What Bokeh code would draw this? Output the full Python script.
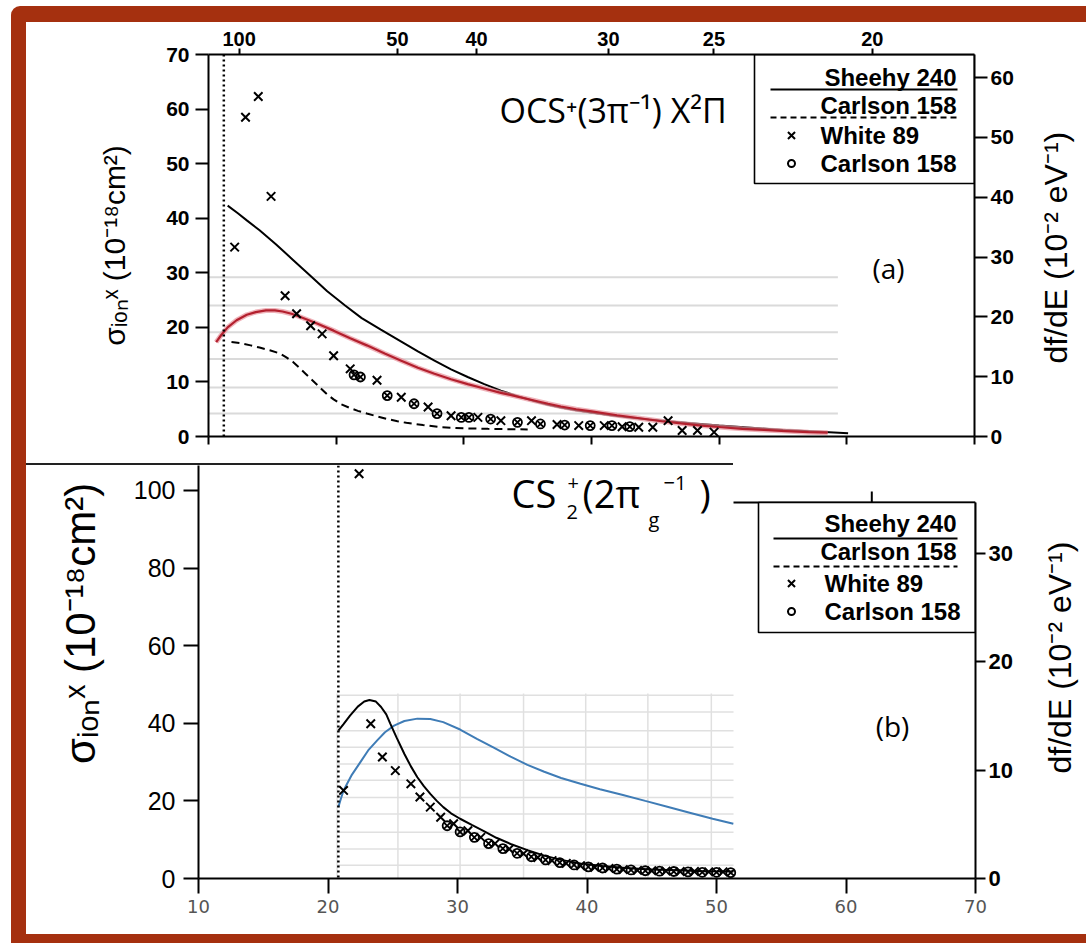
import math
from bokeh.plotting import figure
from bokeh.models import Range1d, LinearAxis, FixedTicker, Label, Span
from bokeh.layouts import column, row
from bokeh.embed import file_html
from bokeh.resources import INLINE

HC = 1239.84  # eV * nm, converts photon wavelength to photon energy

# ---------------- panel (a): OCS+ (3pi^-1) X2Pi ----------------
OCS_IP = 11.2
PHOTON_NM = [100, 50, 40, 30, 25, 20]

OCS_SHEEHY_E = [11.5, 12.3, 13.0, 14.0, 15.3, 16.6, 18.0, 19.3, 20.7, 22.0, 23.5, 25.1,
                26.4, 27.7, 29.0, 30.3, 31.6, 32.9, 34.2, 35.5, 36.6, 37.6, 38.8, 40.0,
                41.5, 43.0, 44.5, 46.0, 48.0, 50.0, 52.5, 55.0, 57.5, 60.1]
OCS_SHEEHY = [42.3, 40.9, 39.6, 37.8, 35.2, 32.4, 29.4, 26.6, 24.0, 21.7, 19.6, 17.4,
              15.6, 13.9, 12.3, 10.9, 9.6, 8.4, 7.4, 6.5, 5.8, 5.3, 4.8, 4.4,
              3.9, 3.5, 3.1, 2.8, 2.4, 2.0, 1.6, 1.2, 0.9, 0.6]

OCS_CALC_E = [10.6, 11.0, 11.5, 12.2, 13.0, 13.7, 14.5, 15.2, 15.8, 16.5, 17.2, 18.5,
              19.8, 21.1, 22.4, 23.8, 25.1, 26.4, 27.7, 29.0, 30.3, 31.6, 32.9, 34.2,
              35.5, 36.6, 37.6, 38.8, 40.0, 42.0, 43.9, 45.5, 47.0, 48.6, 50.2, 51.8,
              53.5, 55.2, 57.0, 58.5]
OCS_CALC = [17.3, 18.6, 20.0, 21.3, 22.3, 22.8, 23.1, 23.1, 22.9, 22.5, 21.9, 20.7,
            19.4, 18.0, 16.7, 15.2, 13.9, 12.6, 11.5, 10.5, 9.6, 8.8, 8.0, 7.3,
            6.6, 6.0, 5.5, 5.0, 4.6, 3.9, 3.3, 2.8, 2.4, 2.0, 1.7, 1.4,
            1.2, 1.0, 0.8, 0.7]

OCS_CARLSON_LINE_E = [11.8, 12.5, 13.3, 14.0, 14.8, 15.6, 16.1, 16.6, 17.2, 17.6, 18.0,
                      18.4, 18.8, 19.3, 19.8, 20.4, 21.0, 21.7, 22.4, 23.2, 24.0, 24.8,
                      25.5, 26.8, 28.2, 30.0, 31.9, 35.0]
OCS_CARLSON_LINE = [17.3, 17.1, 16.7, 16.3, 15.8, 15.2, 14.5, 13.7, 12.4, 11.5, 10.6,
                    9.7, 8.8, 7.7, 6.8, 5.9, 5.3, 4.7, 4.2, 3.7, 3.2, 2.8,
                    2.5, 2.1, 1.7, 1.5, 1.4, 1.3]

OCS_WHITE_E = [12.05, 12.9, 13.9, 14.9, 16.0, 16.9, 18.0, 18.9, 19.8, 21.1, 23.2, 25.1,
               27.2, 29.0, 31.1, 32.9, 35.3, 37.3, 39.0, 41.0, 42.4, 43.7, 44.8, 46.0,
               47.1, 48.3, 49.6]
OCS_WHITE = [34.7, 58.5, 62.3, 44.0, 25.8, 22.5, 20.3, 18.8, 14.8, 12.4, 10.3, 7.2,
             5.4, 3.8, 3.5, 2.9, 2.9, 2.2, 2.0, 2.0, 1.8, 1.7, 1.7, 2.9,
             1.1, 1.1, 0.8]

OCS_CARLSON_E = [21.4, 21.9, 24.0, 26.1, 27.9, 29.8, 30.4, 32.1, 34.2, 36.0, 37.9, 39.9,
                 41.6, 43.0]
OCS_CARLSON = [11.3, 10.9, 7.5, 6.0, 4.2, 3.5, 3.5, 3.2, 2.6, 2.3, 2.1, 2.0,
               2.0, 1.8]

OCS_RULED = [29.2, 24.0, 19.1, 14.2, 9.0, 4.2]

# ---------------- panel (b): CS2+ (2pi_g^-1) X ----------------
CS2_IP = 20.8

CS2_SHEEHY_E = [20.8, 21.2, 21.7, 22.3, 22.8, 23.2, 23.7, 24.1, 24.5, 24.8, 25.3, 25.9,
                26.4, 26.9, 27.4, 27.9, 28.4, 28.9, 29.5, 30.2, 31.1, 32.0, 33.0, 34.1,
                35.4, 36.7, 38.0, 39.5, 41.2, 43.0, 45.0, 47.0, 49.0, 51.3]
CS2_SHEEHY = [38.1, 39.8, 42.0, 44.3, 45.6, 46.0, 45.6, 44.2, 42.3, 40.0, 36.3, 32.1,
              28.9, 26.1, 23.8, 21.8, 20.0, 18.4, 16.8, 15.4, 13.8, 12.3, 10.5, 8.9,
              7.3, 5.9, 4.8, 3.9, 3.2, 2.7, 2.3, 2.1, 1.9, 1.8]

CS2_CALC_E = [20.8, 21.0, 21.2, 21.8, 22.5, 23.1, 23.8, 24.4, 25.1, 25.9, 26.9, 27.9,
              28.9, 30.2, 31.5, 32.8, 34.1, 35.4, 36.7, 38.0, 39.5, 41.0, 42.7, 44.5,
              46.2, 48.0, 49.7, 51.3]
CS2_CALC = [18.4, 20.6, 22.7, 26.5, 30.0, 33.0, 35.6, 37.7, 39.4, 40.6, 41.2, 41.1,
            40.3, 38.4, 36.0, 33.7, 31.4, 29.3, 27.5, 25.9, 24.4, 23.0, 21.6, 20.0,
            18.5, 16.9, 15.4, 14.1]

CS2_WHITE_E = [21.2, 22.4, 23.3, 24.2, 25.2, 26.4, 27.1, 27.9, 28.7, 29.7, 30.8, 31.8,
               32.9, 34.0, 35.1, 36.2, 37.3, 38.4, 39.5, 40.6, 41.7, 42.8, 43.9, 45.0,
               46.1, 47.2, 48.3, 49.4, 50.5]
CS2_WHITE = [22.7, 104.3, 39.9, 31.3, 27.8, 24.4, 21.0, 18.4, 15.8, 14.1, 12.3, 10.6,
             9.0, 7.6, 6.4, 5.4, 4.6, 3.9, 3.3, 2.9, 2.6, 2.3, 2.1, 2.0,
             1.9, 1.8, 1.8, 1.7, 1.7]

CS2_CARLSON_E = [29.2, 30.2, 31.3, 32.4, 33.5, 34.6, 35.7, 36.8, 37.9, 39.0, 40.1, 41.2,
                 42.3, 43.4, 44.5, 45.6, 46.7, 47.8, 48.9, 50.0, 51.1]
CS2_CARLSON = [13.6, 12.0, 10.6, 9.0, 7.7, 6.5, 5.6, 4.8, 4.1, 3.5, 3.0, 2.7,
               2.4, 2.2, 2.0, 1.9, 1.8, 1.7, 1.6, 1.6, 1.5]

CS2_GRID_E = [20.7, 25.4, 30.2, 35.1, 39.9, 44.7, 49.6]
CS2_GRID_S = [47.2, 42.9, 38.1, 33.8, 29.5, 25.3, 20.9, 16.6, 11.9, 7.6, 3.4]

ENERGY_TICKS = [10, 20, 30, 40, 50, 60, 70]

# ---------------- colours and fonts ----------------
FRAME_RED = "#a5300f"
CALC_RED = "#b3202e"
CALC_RED_HALO = "#e8939c"
CALC_BLUE = "#3f7cb6"
RULE_GREY = "#dadada"
TICK_FONT = "Liberation Sans"
TITLE_FONT = "Open Sans"
DFDE_LABEL = "df/dE (10⁻² eV⁻¹)"
SIGMA_LABEL = "σᵢₒₙˣ (10⁻¹⁸cm²)"

# page layout (pixels): white sheet starts at x=26, y=22; right label strip is 62 wide
SHEET_LEFT, SHEET_TOP, SHEET_RIGHT = 26, 22, 1086
STRIP_R = 62
A_HEIGHT, B_HEIGHT = 441, 471
B_STRIP_L = 80

# frame geometry in page pixels, used to place text inside the panels
A_LEFT, A_TOP, A_W, A_H = 208, 54, 766, 382
A_YMAX, A_DFMAX = 70.0, 63.85
B_LEFT, B_TOP, B_W, B_H = 198, 465, 777, 413
B_YMAX, B_DFMAX = 106.44, 38.13
B_EDGE_RIGHT = 733  # where the inset's top edge line stops


def ax_(px):
    return 10 + (px - A_LEFT) / A_W * 60


def ay_(py):
    return (A_TOP + A_H - py) / A_H * A_YMAX


def bx_(px):
    return 10 + (px - B_LEFT) / B_W * 60


def by_(py):
    return (B_TOP + B_H - py) / B_H * B_YMAX


def style_axis(ax, size, bold=True, tick_out=12, standoff=4, color="black"):
    ax.axis_line_color = "black"
    ax.axis_line_width = 2
    ax.major_tick_line_color = "black"
    ax.major_tick_line_width = 2
    ax.major_tick_out = tick_out
    ax.major_tick_in = 0
    ax.minor_tick_line_color = None
    ax.major_label_text_font = TICK_FONT
    ax.major_label_text_font_size = f"{size}px"
    ax.major_label_text_font_style = "bold" if bold else "normal"
    ax.major_label_text_color = color
    ax.major_label_standoff = standoff
    ax.axis_label_text_font = TICK_FONT
    ax.axis_label_text_font_style = "normal"
    ax.axis_label_text_color = "black"


def put(p, x, y, text, size, font=TICK_FONT, style="normal", align="left", angle=0.0):
    p.add_layout(Label(x=x, y=y, text=text, text_font=font, text_font_size=f"{size}px",
                       text_font_style=style, text_align=align, text_baseline="middle",
                       text_color="black", angle=angle))


def text_strip(width, height, cx, cy, text, size, fill="white"):
    """Narrow blank canvas carrying one vertical (bottom-to-top) axis title.
    cx, cy are pixel offsets from the strip's left and top edges."""
    s = figure(width=width, height=height, x_range=Range1d(0, width),
               y_range=Range1d(0, height), output_backend="svg", toolbar_location=None,
               title=None, x_axis_location=None, y_axis_location=None,
               min_border_left=0, min_border_right=0, min_border_top=0,
               min_border_bottom=0)
    s.outline_line_color = None
    s.grid.visible = False
    s.background_fill_color = fill
    s.border_fill_color = fill
    put(s, cx, height - cy, text, size, align="center", angle=math.pi / 2)
    return s


def key_box(p, left, right, top, bottom, rows, fx, fy):
    """Key with underlined line samples and marker rows."""
    p.quad(left=[left], right=[right], top=[top], bottom=[bottom],
           fill_color="white", line_color="black", line_width=1.6)
    (t1, u1, t2, u2, m1, m2, xl, xr, xm, xt) = rows
    put(p, fx(xr), fy(t1), "Sheehy 240", 24, style="bold", align="right")
    p.line([fx(xl), fx(xr + 1)], [fy(u1)] * 2, line_color="black", line_width=1.8)
    put(p, fx(xr), fy(t2), "Carlson 158", 24, style="bold", align="right")
    p.line([fx(xl), fx(xr + 1)], [fy(u2)] * 2, line_color="black", line_width=1.8,
           line_dash="6 4")
    p.scatter([fx(xm)], [fy(m1)], marker="x", size=10, line_color="black", line_width=2)
    put(p, fx(xt), fy(m1), "White 89", 24, style="bold")
    p.scatter([fx(xm)], [fy(m2)], marker="circle", size=7, fill_color=None,
              line_color="black", line_width=2)
    put(p, fx(xt), fy(m2), "Carlson 158", 24, style="bold")


# ================= panel (a) =================
a_width = SHEET_RIGHT - STRIP_R - SHEET_LEFT
pa = figure(width=a_width, height=A_HEIGHT, x_range=Range1d(10, 70),
            y_range=Range1d(0, A_YMAX), output_backend="svg", toolbar_location=None,
            title=None, min_border_left=A_LEFT - SHEET_LEFT,
            min_border_right=SHEET_LEFT + a_width - (A_LEFT + A_W),
            min_border_top=A_TOP - SHEET_TOP, min_border_bottom=27)
pa.extra_y_ranges = {"df": Range1d(0, A_DFMAX)}
pa.outline_line_color = None
pa.xgrid.visible = False
pa.ygrid.visible = False
pa.background_fill_color = "white"
pa.border_fill_color = "white"

a_left = pa.left[0]
a_left.ticker = FixedTicker(ticks=list(range(0, 71, 10)))
style_axis(a_left, 21, tick_out=13, standoff=6)
a_left.axis_label = SIGMA_LABEL
a_left.axis_label_text_font_size = "30px"
a_left.axis_label_standoff = 32

a_bottom = pa.below[0]
a_bottom.ticker = FixedTicker(ticks=ENERGY_TICKS)
a_bottom.major_label_overrides = {t: "" for t in ENERGY_TICKS}
style_axis(a_bottom, 2, tick_out=8, standoff=0)

a_right = LinearAxis(y_range_name="df", ticker=FixedTicker(ticks=list(range(0, 61, 10))))
style_axis(a_right, 21, tick_out=13, standoff=3)
pa.add_layout(a_right, "right")

top_ticks = [round(HC / nm, 3) for nm in PHOTON_NM]
a_top = LinearAxis(ticker=FixedTicker(ticks=top_ticks),
                   major_label_overrides={t: str(nm) for t, nm in zip(top_ticks, PHOTON_NM)})
style_axis(a_top, 20, tick_out=6, standoff=3)
pa.add_layout(a_top, "above")

# faint ruled lines behind the curves
pa.segment(x0=[10] * len(OCS_RULED), x1=[59.3] * len(OCS_RULED), y0=OCS_RULED, y1=OCS_RULED,
           line_color=RULE_GREY, line_width=2)

pa.add_layout(Span(location=OCS_IP, dimension="height", line_color="black",
                   line_width=2.5, line_dash="2 3"))

pa.line(OCS_SHEEHY_E, OCS_SHEEHY, line_color="black", line_width=2)
pa.line(OCS_CARLSON_LINE_E, OCS_CARLSON_LINE, line_color="black", line_width=2,
        line_dash="8 5")
pa.line(OCS_CALC_E, OCS_CALC, line_color=CALC_RED_HALO, line_width=5, line_alpha=0.7)
pa.line(OCS_CALC_E, OCS_CALC, line_color=CALC_RED, line_width=2.2)
pa.scatter(OCS_CARLSON_E, OCS_CARLSON, marker="circle_x", size=9, fill_color=None,
           line_color="black", line_width=1.8)
pa.scatter(OCS_WHITE_E, OCS_WHITE, marker="x", size=12, line_color="black", line_width=2)

put(pa, ax_(499), ay_(109), "OCS⁺(3π⁻¹) X²Π", 34, font=TITLE_FONT)
put(pa, ax_(888), ay_(267), "(a)", 28, font=TITLE_FONT, align="center")

key_box(pa, ax_(754), 70, A_YMAX, ay_(183),
        (77, 89, 105, 117, 135, 163, 770, 956, 791, 820), ax_, ay_)

a_strip = text_strip(STRIP_R, A_HEIGHT, 1055 - (SHEET_RIGHT - STRIP_R), 245 - SHEET_TOP,
                     DFDE_LABEL, 32)

# ================= panel (b) =================
b_top_page = SHEET_TOP + A_HEIGHT
b_left_page = SHEET_LEFT + B_STRIP_L
b_width = SHEET_RIGHT - STRIP_R - b_left_page
pb = figure(width=b_width, height=B_HEIGHT, x_range=Range1d(10, 70),
            y_range=Range1d(0, B_YMAX), output_backend="svg", toolbar_location=None,
            title=None, min_border_left=B_LEFT - b_left_page,
            min_border_right=b_left_page + b_width - (B_LEFT + B_W),
            min_border_top=B_TOP - b_top_page,
            min_border_bottom=b_top_page + B_HEIGHT - (B_TOP + B_H))
pb.extra_y_ranges = {"df": Range1d(0, B_DFMAX)}
pb.outline_line_color = None
pb.xgrid.visible = False
pb.ygrid.visible = False
pb.background_fill_color = "white"
pb.border_fill_color = None  # lets the row's top edge line show through

b_left = pb.left[0]
b_left.ticker = FixedTicker(ticks=list(range(0, 101, 20)))
style_axis(b_left, 25, bold=False, tick_out=15, standoff=8)

b_bottom = pb.below[0]
b_bottom.ticker = FixedTicker(ticks=ENERGY_TICKS)
style_axis(b_bottom, 18, bold=False, tick_out=15, standoff=6, color="#555555")
b_bottom.major_label_text_font = "DejaVu Sans"

b_right = LinearAxis(y_range_name="df", ticker=FixedTicker(ticks=[0, 10, 20, 30]),
                     bounds=(0, 34.7))
style_axis(b_right, 22, tick_out=10, standoff=3)
pb.add_layout(b_right, "right")

# faint chart grid of the inset region
paste_edge = bx_(B_EDGE_RIGHT)
grid_top = by_(693)
pb.segment(x0=CS2_GRID_E, x1=CS2_GRID_E, y0=[0] * len(CS2_GRID_E),
           y1=[grid_top] * len(CS2_GRID_E), line_color="#e0e0e0", line_width=1.5)
pb.segment(x0=[CS2_GRID_E[0]] * len(CS2_GRID_S), x1=[paste_edge] * len(CS2_GRID_S),
           y0=CS2_GRID_S, y1=CS2_GRID_S, line_color="#e0e0e0", line_width=1.5)

# top edge of the original panel to the right of the inset, with its 20 nm tick
pb.line([paste_edge, 70], [by_(502)] * 2, line_color="black", line_width=2)
pb.line([HC / 20] * 2, [by_(502), by_(491)], line_color="black", line_width=2)

pb.add_layout(Span(location=CS2_IP, dimension="height", line_color="black",
                   line_width=2.5, line_dash="2 3"))

pb.line(CS2_CALC_E, CS2_CALC, line_color=CALC_BLUE, line_width=2)
pb.line(CS2_SHEEHY_E, CS2_SHEEHY, line_color="black", line_width=2)
pb.scatter(CS2_CARLSON_E, CS2_CARLSON, marker="circle_x", size=9, fill_color=None,
           line_color="black", line_width=1.8)
pb.scatter(CS2_WHITE_E, CS2_WHITE, marker="x", size=12, line_color="black", line_width=2)

# title CS2+(2pi_g^-1) built from pieces for sub/superscripts
put(pb, bx_(511), by_(492), "CS", 38, font=TITLE_FONT)
put(pb, bx_(566), by_(511), "2", 20, font=TITLE_FONT)
put(pb, bx_(567), by_(482), "+", 20, font=TITLE_FONT)
put(pb, bx_(582), by_(492), "(2π", 38, font=TITLE_FONT)
put(pb, bx_(648), by_(519), "g", 20, font=TITLE_FONT)
put(pb, bx_(663), by_(482), "−1", 20, font=TITLE_FONT)
put(pb, bx_(699), by_(492), ")", 38, font=TITLE_FONT)
put(pb, bx_(892), by_(725), "(b)", 28, font=TITLE_FONT, align="center")

key_box(pb, bx_(758), 70, by_(502), by_(632),
        (523, 538, 551, 566, 583, 611, 773, 956, 791, 824), bx_, by_)

b_strip_l = text_strip(B_STRIP_L, B_HEIGHT, 80 - SHEET_LEFT, 643 - b_top_page,
                       SIGMA_LABEL, 42, fill=None)
b_strip_r = text_strip(STRIP_R, B_HEIGHT, 1059 - (SHEET_RIGHT - STRIP_R), 682 - b_top_page,
                       DFDE_LABEL, 32)

# dark top edge of the inset, drawn along the top of the lower row
edge_len = B_EDGE_RIGHT - SHEET_LEFT
b_row_bg = (f"linear-gradient(#222222, #222222) 0px 0px / {edge_len}px 2px no-repeat, "
            "white")
inner = column(row(pa, a_strip, spacing=0, styles={"background-color": "white"}),
               row(b_strip_l, pb, b_strip_r, spacing=0, styles={"background": b_row_bg}),
               spacing=0, margin=(16, 0, 9, 15), styles={"background-color": "white"})
page = column(inner, margin=(6, 0, 0, 11),
              styles={"background-color": FRAME_RED, "border-top-left-radius": "9px"})

open("out.html", "w").write(file_html(page, INLINE))
